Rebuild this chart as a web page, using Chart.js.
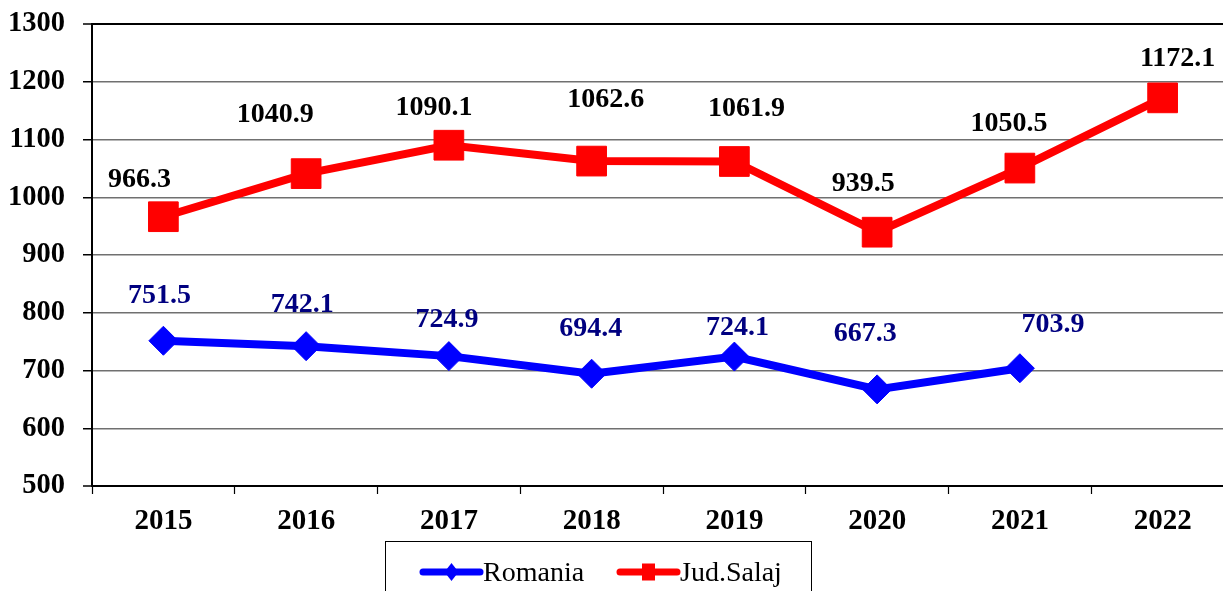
<!DOCTYPE html>
<html><head><meta charset="utf-8">
<script src="https://cdn.jsdelivr.net/npm/chart.js@4.4.1/dist/chart.umd.min.js"></script>
<style>html,body{margin:0;padding:0;overflow:hidden;background:#fff;width:1223px;height:591px}canvas{display:block}</style>
</head><body>
<canvas id="c" width="1245" height="600"></canvas>
<script>
// ---- data ----
const years = ['2015', '2016', '2017', '2018', '2019', '2020', '2021', '2022'];
const romania = [751.5, 742.1, 724.9, 694.4, 724.1, 667.3, 703.9, null];
const salaj = [966.3, 1040.9, 1090.1, 1062.6, 1061.9, 939.5, 1050.5, 1172.1];
const seriesNames = ['Romania', 'Jud.Salaj'];
const yMin = 500, yMax = 1300, yStep = 100;

// ---- styles ----
const FONT = "'Liberation Serif','Times New Roman',Times,serif";
const labelOffsets = [
  [[-4,-48],[-4,-44],[-2,-39],[-1,-48],[3,-32],[-12,-58],[33,-46],[0,0]],
  [[-24,-40],[-31,-62],[-15,-40],[14,-64],[12,-56],[-14,-51],[-11,-47],[15,-42]]
];
const labelColors = ['#000080', '#000000'];

const pointLabels = {
  id: 'pointLabels',
  afterDatasetsDraw(chart) {
    const ctx = chart.ctx;
    ctx.save();
    ctx.font = 'bold 28px ' + FONT;
    ctx.textAlign = 'center';
    ctx.textBaseline = 'alphabetic';
    chart.data.datasets.forEach((ds, di) => {
      const meta = chart.getDatasetMeta(di);
      ctx.fillStyle = labelColors[di];
      meta.data.forEach((el, i) => {
        const v = ds.data[i];
        if (v === null || v === undefined) return;
        const off = labelOffsets[di][i];
        ctx.fillText(v.toFixed(1), el.x + off[0], el.y + off[1] + 10);
      });
    });
    ctx.restore();
  }
};

const boxLegend = {
  id: 'boxLegend',
  afterDraw(chart) {
    const ctx = chart.ctx;
    ctx.save();
    ctx.strokeStyle = '#000';
    ctx.lineWidth = 1;
    ctx.strokeRect(385.5, 541.5, 426, 80);
    const items = [
      {x0: 423, x1: 480, tx: 483},
      {x0: 620, x1: 677, tx: 680}
    ];
    const cy = 572;
    chart.data.datasets.forEach((ds, di) => {
      const it = items[di];
      ctx.strokeStyle = ds.borderColor;
      ctx.lineWidth = 7;
      ctx.lineCap = 'round';
      ctx.beginPath(); ctx.moveTo(it.x0, cy); ctx.lineTo(it.x1, cy); ctx.stroke();
      const mx = (it.x0 + it.x1) / 2;
      ctx.fillStyle = ds.borderColor;
      ctx.beginPath();
      if (ds.pointStyle === 'rectRot') {
        ctx.moveTo(mx - 7, cy); ctx.lineTo(mx, cy - 9); ctx.lineTo(mx + 7, cy); ctx.lineTo(mx, cy + 9);
        ctx.closePath(); ctx.fill();
      } else {
        ctx.fillRect(mx - 6.5, cy - 8.5, 13, 17);
      }
      ctx.fillStyle = '#000';
      ctx.font = '28px ' + FONT;
      ctx.textAlign = 'left';
      ctx.textBaseline = 'alphabetic';
      ctx.fillText(ds.label, it.tx, cy + 9);
    });
    ctx.restore();
  }
};

new Chart(document.getElementById('c'), {
  type: 'line',
  data: {
    labels: years,
    datasets: [
      {
        label: seriesNames[0], data: romania,
        borderColor: '#0000FF', backgroundColor: '#0000FF',
        borderWidth: 8, pointStyle: 'rectRot', pointRadius: 14.5,
        pointBorderWidth: 1, pointBackgroundColor: '#0000FF', pointBorderColor: '#0000FF',
        tension: 0, spanGaps: false, clip: false
      },
      {
        label: seriesNames[1], data: salaj,
        borderColor: '#FF0000', backgroundColor: '#FF0000',
        borderWidth: 8, pointStyle: 'rect', pointRadius: 21,
        pointBorderWidth: 1, pointBackgroundColor: '#FF0000', pointBorderColor: '#FF0000',
        tension: 0, clip: false
      }
    ]
  },
  options: {
    responsive: false,
    animation: false,
    layout: { autoPadding: false, padding: { top: 24, right: 11, left: 0, bottom: 0 } },
    plugins: { legend: { display: false }, tooltip: { enabled: false } },
    scales: {
      x: {
        offset: true,
        afterFit(s) { s.height = 114; s.paddingLeft = 0; s.paddingRight = 0; },
        border: { display: true, color: '#000', width: 2 },
        grid: { offset: true, drawOnChartArea: false, drawTicks: true, tickLength: 8, tickColor: '#000', tickWidth: 1.2 },
        ticks: { color: '#000', font: { family: FONT, size: 29, weight: 'bold' }, padding: 10, maxRotation: 0, autoSkip: false }
      },
      y: {
        min: yMin, max: yMax,
        afterFit(s) { s.width = 92; s.paddingTop = 0; s.paddingBottom = 0; },
        border: { display: true, color: '#000', width: 2 },
        grid: {
          color: (c) => (c.tick && (c.tick.value === yMax || c.tick.value === yMin)) ? '#000' : '#707070',
          lineWidth: (c) => (c.tick && (c.tick.value === yMax || c.tick.value === yMin)) ? 2 : 1.5,
          tickLength: 9, tickColor: '#000', tickWidth: 1.5
        },
        ticks: {
          stepSize: yStep, color: '#000', padding: 18,
          font: { family: FONT, size: 28.5, weight: 'bold' },
          callback: (v) => String(v)
        }
      }
    }
  },
  plugins: [pointLabels, boxLegend]
});
</script>
</body></html>
